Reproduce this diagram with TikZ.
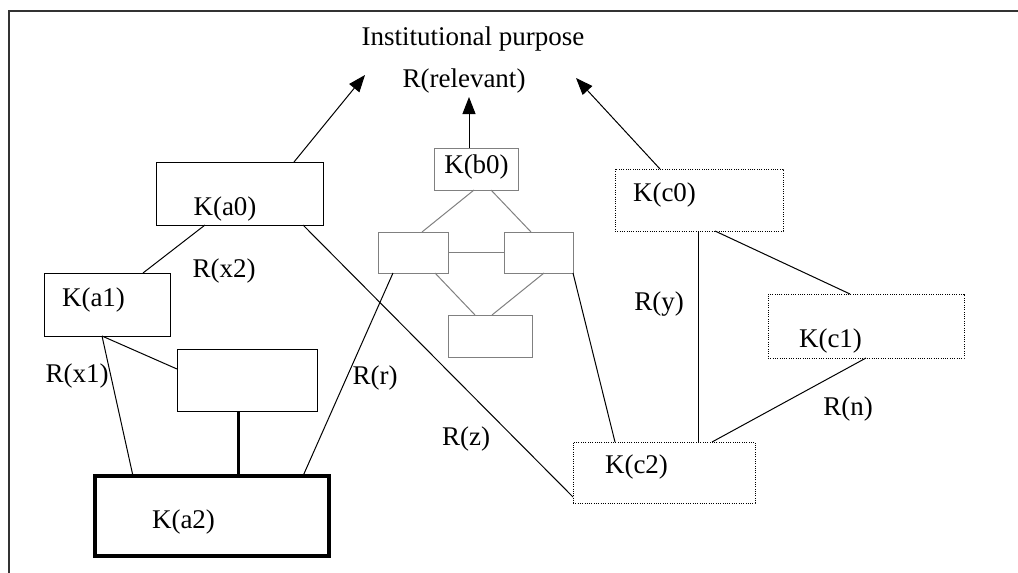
\documentclass[tikz,border=0pt]{standalone}
\usepackage{fontspec}
\setmainfont{Liberation Serif}
\usetikzlibrary{arrows.meta,calc}
\begin{document}
\begin{tikzpicture}[x=1pt,y=-1pt,
  every node/.style={inner sep=0pt,outer sep=0pt},
  plainbox/.style 2 args={draw=black,line width=1pt,minimum width=#1,minimum height=#2},
  dotbox/.style 2 args={draw=black,line width=1pt,dash pattern=on 1pt off 1.3pt,minimum width=#1,minimum height=#2},
  greybox/.style 2 args={draw=black!50,line width=1pt,minimum width=#1,minimum height=#2},
  heavybox/.style 2 args={draw=black,line width=4pt,minimum width=#1,minimum height=#2},
  txt/.style={anchor=base,font=\fontsize{27}{32}\selectfont},
  link/.style={draw=black,line width=1pt},
  greylink/.style={draw=black!50,line width=1pt},
  heavylink/.style={draw=black,line width=3pt},
  goal/.style={draw=black,line width=1pt,-{Triangle[length=17pt,width=13pt]}}]

\useasboundingbox (0,0) rectangle (1018,573);

% outer frame (top and left edges only)
\draw[black!80,line width=1.6pt] (9,573) -- (9,11) -- (1018,11);

% headings
\node[txt] (purpose) at (473,45) {Institutional purpose};
\node[txt] (relevant) at (464,87) {R(relevant)};

% arrow targets
\coordinate (tipA) at (365,75);
\coordinate (tipB) at (469,97);
\coordinate (tipC) at (576,78);

% a-cluster
\node[plainbox={167pt}{63pt}] (a0) at (239.5,193.5) {};
\node[plainbox={126pt}{63pt}] (a1) at (107,304.5) {};
\node[plainbox={140pt}{62pt}] (ab) at (247,380) {};
\node[heavybox={234pt}{80pt}] (a2) at (212,516) {};

% b-cluster
\node[greybox={84pt}{42pt}] (b0) at (476,169) {};
\node[greybox={70pt}{41pt}] (bl) at (413,252.5) {};
\node[greybox={69pt}{41pt}] (br) at (538.5,252.5) {};
\node[greybox={84pt}{42pt}] (bb) at (490,336) {};

% c-cluster
\node[dotbox={168pt}{62pt}] (c0) at (699,200) {};
\node[dotbox={196pt}{64pt}] (c1) at (866,326) {};
\node[dotbox={182pt}{61pt}] (c2) at (664,472.5) {};

% box captions
\node[txt] (ta0) at (225,215) {K(a0)};
\node[txt] (ta1) at (93.5,306) {K(a1)};
\node[txt] (ta2) at (183.5,528) {K(a2)};
\node[txt] (tb0) at (476.5,173) {K(b0)};
\node[txt] (tc0) at (664.5,201) {K(c0)};
\node[txt] (tc1) at (830.5,347) {K(c1)};
\node[txt] (tc2) at (636.5,473) {K(c2)};

% relation labels
\node[txt] (rx2) at (224,277) {R(x2)};
\node[txt] (rx1) at (77,382) {R(x1)};
\node[txt] (rr) at (375,384) {R(r)};
\node[txt] (rz) at (466,445) {R(z)};
\node[txt] (ry) at (659,310) {R(y)};
\node[txt] (rn) at (848,415) {R(n)};

% arrows up to the purpose
\draw[goal] ($(a0.north west)+(138,0)$) -- (tipA);
\draw[goal] ($(b0.north west)+(35,0)$) -- (tipB);
\draw[goal] ($(c0.north west)+(45,0)$) -- (tipC);

% a-cluster links
\draw[link] ($(a0.south west)+(49,0)$) -- ($(a1.north west)+(99,0)$);
\draw[link] ($(a0.south west)+(147,0)$) -- ($(c2.south west)+(0,-6)$);
\draw[link] ($(a1.south west)+(58,0)$) -- ($(ab.north west)+(0,20)$);
\draw[link] ($(a1.south west)+(58,0)$) -- ($(a2.north west)+(38,0)$);
\draw[heavylink] ($(ab.south west)+(61,0)$) -- ($(a2.north west)+(143,0)$);
\draw[link] ($(a2.north west)+(208,0)$) -- ($(bl.south west)+(15,0)$);

% b-cluster internal links
\draw[greylink] ($(b0.south west)+(40,0)$) -- ($(bl.north west)+(44,0)$);
\draw[greylink] ($(b0.south west)+(57,0)$) -- ($(br.north west)+(27,0)$);
\draw[greylink] (bl.east) -- (br.west);
\draw[greylink] ($(bl.south west)+(57,0)$) -- ($(bb.north west)+(27,0)$);
\draw[greylink] ($(br.south west)+(40,0)$) -- ($(bb.north west)+(44,0)$);

% links into the c-cluster
\draw[link] (br.south east) -- ($(c2.north west)+(42,0)$);
\draw[link] ($(c0.south west)+(83,0)$) -- ($(c2.north west)+(125,0)$);
\draw[link] ($(c0.south west)+(100,0)$) -- ($(c1.north west)+(82,0)$);
\draw[link] (c1.south) -- ($(c2.north west)+(139,0)$);
\end{tikzpicture}
\end{document}
